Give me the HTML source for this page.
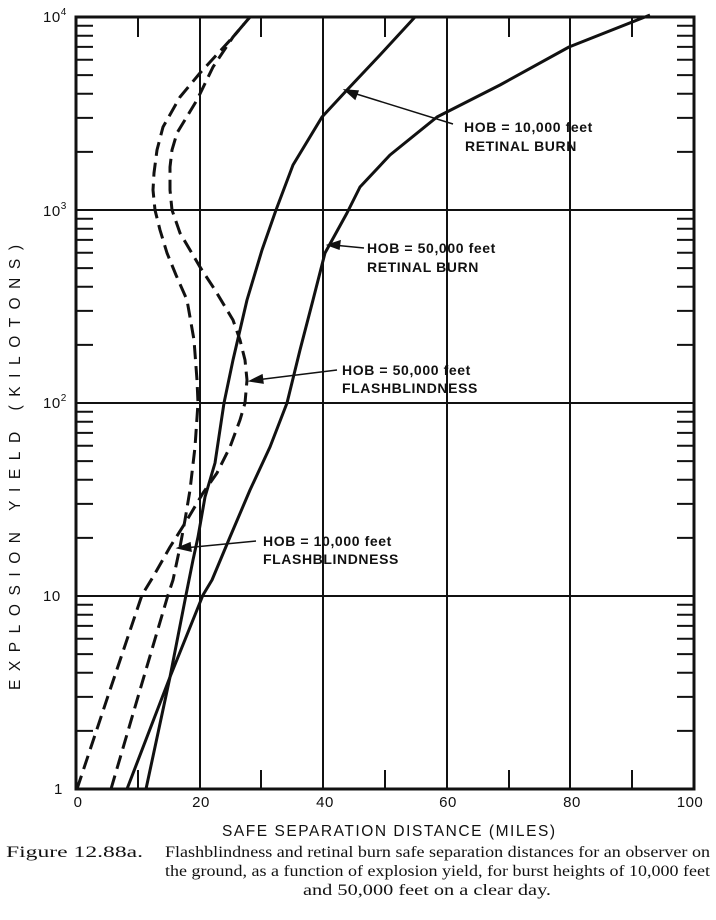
<!DOCTYPE html>
<html><head><meta charset="utf-8"><style>
html,body{margin:0;padding:0;background:#fff;}
svg{display:block}
text{font-family:"Liberation Sans",sans-serif;fill:#111;}
.lb{font-size:14px;font-weight:bold;letter-spacing:0.6px}
.tk{font-size:15px;letter-spacing:0.5px}
.ti{font-size:15.5px}
.cap{font-family:"Liberation Serif",serif;font-size:16px}
</style></head><body>
<svg width="716" height="920" viewBox="0 0 716 920" xmlns="http://www.w3.org/2000/svg">
<g stroke="#111" stroke-width="2" fill="none">
<line x1="200" y1="17" x2="200" y2="789"/>
<line x1="323" y1="17" x2="323" y2="789"/>
<line x1="447" y1="17" x2="447" y2="789"/>
<line x1="570" y1="17" x2="570" y2="789"/>
<line x1="76" y1="210" x2="694" y2="210"/>
<line x1="76" y1="403" x2="694" y2="403"/>
<line x1="76" y1="596" x2="694" y2="596"/>
<path d="M138 17V37M261 17V37M385 17V37M509 17V37M632 17V37M138 789V770M261 789V770M385 789V770M509 789V770M632 789V770"/>
</g>
<g stroke="#111" stroke-width="2" id="minor"></g>
<rect x="76" y="17" width="618" height="772" fill="none" stroke="#111" stroke-width="3"/>
<g fill="none" stroke="#111" stroke-width="3" stroke-linejoin="round" stroke-linecap="butt">
<polyline points="146,789 170,677 186,595 193,560 198,537 205,497 215,463 224,403 233,360 247,300 262,250 276,210 293,165 322,117 347,90 380,55 415,17"/>
<polyline points="127,789 170,677 203,595 212,580 230,537 250,490 270,447 287,403 300,350 313,300 325,253 347,213 360,187 390,155 437,117 500,85 569,47 650,15"/>
<polyline stroke-dasharray="14,7" points="77,789 110,690 142,595 153,577 170,547 187,520 203,493 217,473 230,447 240,420 245,403 247,380 245,360 240,340 233,320 215,290 200,267 180,233 172,210 170,190 170,167 172,150 177,133 197,100 213,67 233,37 250,17"/>
<polyline stroke-dasharray="14,7" points="111,789 140,690 168,595 173,580 180,547 185,520 190,490 195,447 198,403 197,380 194,340 187,300 176,275 167,253 160,230 155,210 153,190 154,173 157,150 163,127 180,97 200,73 233,37 250,17"/>
</g>
<g stroke="#111" stroke-width="1.5" fill="#111">
<line x1="350" y1="92" x2="453" y2="124"/><polygon points="345,90 358,91 355,99"/>
<line x1="333" y1="245" x2="364" y2="248"/><polygon points="328,245 340,241 339,249"/>
<line x1="256" y1="380" x2="337" y2="370"/><polygon points="250,381 262,375 263,383"/>
<line x1="184" y1="548" x2="256" y2="541"/><polygon points="178,548 190,543 191,551"/>
</g>
<text class="lb" x="464" y="132">HOB = 10,000 feet</text>
<text class="lb" x="465" y="151">RETINAL BURN</text>
<text class="lb" x="367" y="253">HOB = 50,000 feet</text>
<text class="lb" x="367" y="272">RETINAL BURN</text>
<text class="lb" x="342" y="375">HOB = 50,000 feet</text>
<text class="lb" x="342" y="393">FLASHBLINDNESS</text>
<text class="lb" x="263" y="546">HOB =  10,000 feet</text>
<text class="lb" x="263" y="564">FLASHBLINDNESS</text>
<text class="tk" x="43" y="22">10<tspan font-size="10" dy="-7">4</tspan></text>
<text class="tk" x="43" y="216">10<tspan font-size="10" dy="-7">3</tspan></text>
<text class="tk" x="43" y="408">10<tspan font-size="10" dy="-7">2</tspan></text>
<text class="tk" x="43" y="601">10</text>
<text class="tk" x="54" y="794">1</text>
<g class="tk" text-anchor="middle">
<text x="78" y="807">0</text><text x="201" y="807">20</text><text x="325" y="807">40</text>
<text x="448" y="807">60</text><text x="572" y="807">80</text><text x="690" y="807">100</text>
</g>
<text class="ti" x="222" y="836" textLength="333" lengthAdjust="spacing">SAFE SEPARATION DISTANCE (MILES)</text>
<text class="ti" transform="translate(20,690) rotate(-90)" textLength="445" lengthAdjust="spacing">EXPLOSION YIELD (KILOTONS)</text>
<text class="cap" x="6" y="857" textLength="137" lengthAdjust="spacingAndGlyphs">Figure 12.88a.</text>
<text class="cap" x="165" y="857" textLength="545" lengthAdjust="spacingAndGlyphs">Flashblindness and retinal burn safe separation distances for an observer on</text>
<text class="cap" x="165" y="876" textLength="545" lengthAdjust="spacingAndGlyphs">the ground, as a function of explosion yield, for burst heights of 10,000 feet</text>
<text class="cap" x="303" y="895" textLength="248" lengthAdjust="spacingAndGlyphs">and 50,000 feet on a clear day.</text>
<script>
var g=document.getElementById('minor'),d='';
[17,210,403,596].forEach(function(t){var b=t+193;for(var n=2;n<10;n++){var y=(b-193*Math.log10(n)).toFixed(1);d+='M76 '+y+'H93M677 '+y+'H694';}});
var p=document.createElementNS('http://www.w3.org/2000/svg','path');p.setAttribute('d',d);g.appendChild(p);
</script>
</svg>
</body></html>
